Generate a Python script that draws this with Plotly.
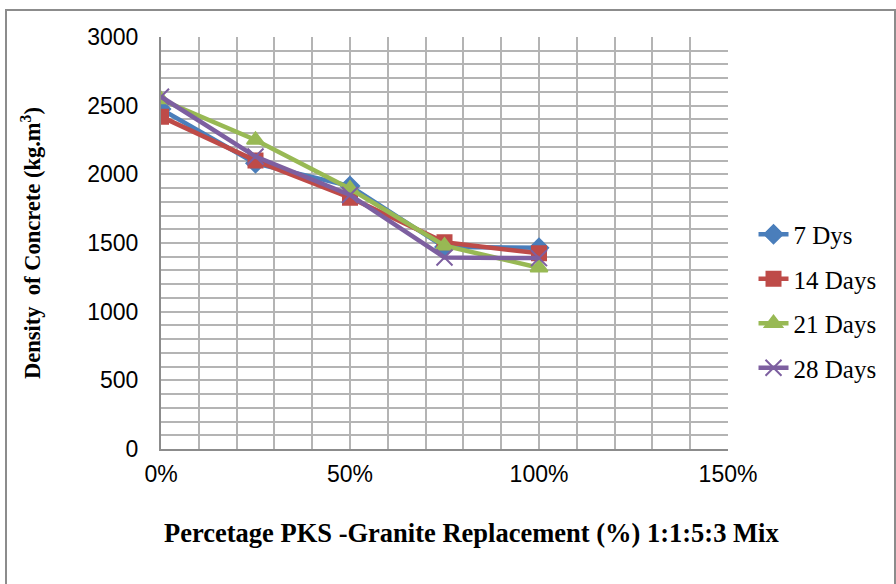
import plotly.graph_objects as go

x_vals = [0.0, 0.25, 0.5, 0.75, 1.0]
days7 = [2475, 2080, 1915, 1470, 1465]
days14 = [2420, 2100, 1830, 1505, 1425]
days21 = [2545, 2250, 1895, 1480, 1320]
days28 = [2565, 2130, 1850, 1395, 1390]

x_title = "<b>Percetage PKS -Granite Replacement (%) 1:1:5:3 Mix</b>"
y_title = "<b>Density  of Concrete (kg.m<sup>3</sup>)</b>"

series = [
    ("7 Dys", days7, "#4a7ebb", "diamond", 14),
    ("14 Days", days14, "#be4b48", "square", 14),
    ("21 Days", days21, "#98b954", "triangle-up", 15),
    ("28 Days", days28, "#7d5fa0", "x-thin-open", 16),
]

fig = go.Figure()
for name, ys, col, sym, sz in series:
    fig.add_trace(go.Scatter(
        x=x_vals, y=ys, name=name, legendgroup=name, mode="lines+markers",
        line=dict(color=col, width=4.5),
        marker=dict(symbol=sym, size=sz, color=col, line=dict(color=col, width=2)),
    ))

L, R, T, B = 161, 168, 37, 135
PW, PH = 896 - L - R, 584 - T - B
grid = "#b4b4b4"
fig.update_layout(
    width=896, height=584,
    margin=dict(l=L, r=R, t=T, b=B),
    paper_bgcolor="white", plot_bgcolor="white",
    showlegend=True,
    legend=dict(x=1.045, xanchor="left", y=(449 - 301) / PH, yanchor="middle",
                font=dict(family="Liberation Serif", size=25, color="black"),
                tracegroupgap=9, bgcolor="rgba(0,0,0,0)"),
    xaxis=dict(range=[0, 1.5], dtick=0.5, tickformat=".0%",
               showgrid=True, gridcolor=grid, gridwidth=2,
               minor=dict(dtick=0.1, showgrid=True, gridcolor=grid, gridwidth=2),
               showline=True, linecolor="#8c8c8c", linewidth=2,
               zeroline=False, ticks="", ticklabelstandoff=3,
               tickfont=dict(family="Liberation Sans", size=23, color="black")),
    yaxis=dict(range=[0, 3000], dtick=500,
               showgrid=True, gridcolor=grid, gridwidth=2,
               minor=dict(dtick=100, showgrid=True, gridcolor=grid, gridwidth=2),
               showline=True, linecolor="#8c8c8c", linewidth=2,
               zeroline=False, ticks="", ticklabelstandoff=16,
               tickfont=dict(family="Liberation Sans", size=23, color="black"),
               title=dict(text=y_title,
                          font=dict(family="Liberation Serif", size=22.5, color="black"),
                          standoff=40)),
    annotations=[dict(text=x_title, xref="paper", yref="paper",
                      x=(471 - L) / PW, y=(449 - 533) / PH,
                      xanchor="center", yanchor="middle", showarrow=False,
                      font=dict(family="Liberation Serif", size=26.5, color="black"))],
    shapes=[dict(type="rect", xref="paper", yref="paper",
                 x0=(6 - L) / PW, x1=(895 - L) / PW,
                 y0=-0.5, y1=(449 - 10) / PH,
                 line=dict(color="#8c8c8c", width=2), fillcolor="rgba(0,0,0,0)", layer="below")],
)

fig.write_html("out.html")
